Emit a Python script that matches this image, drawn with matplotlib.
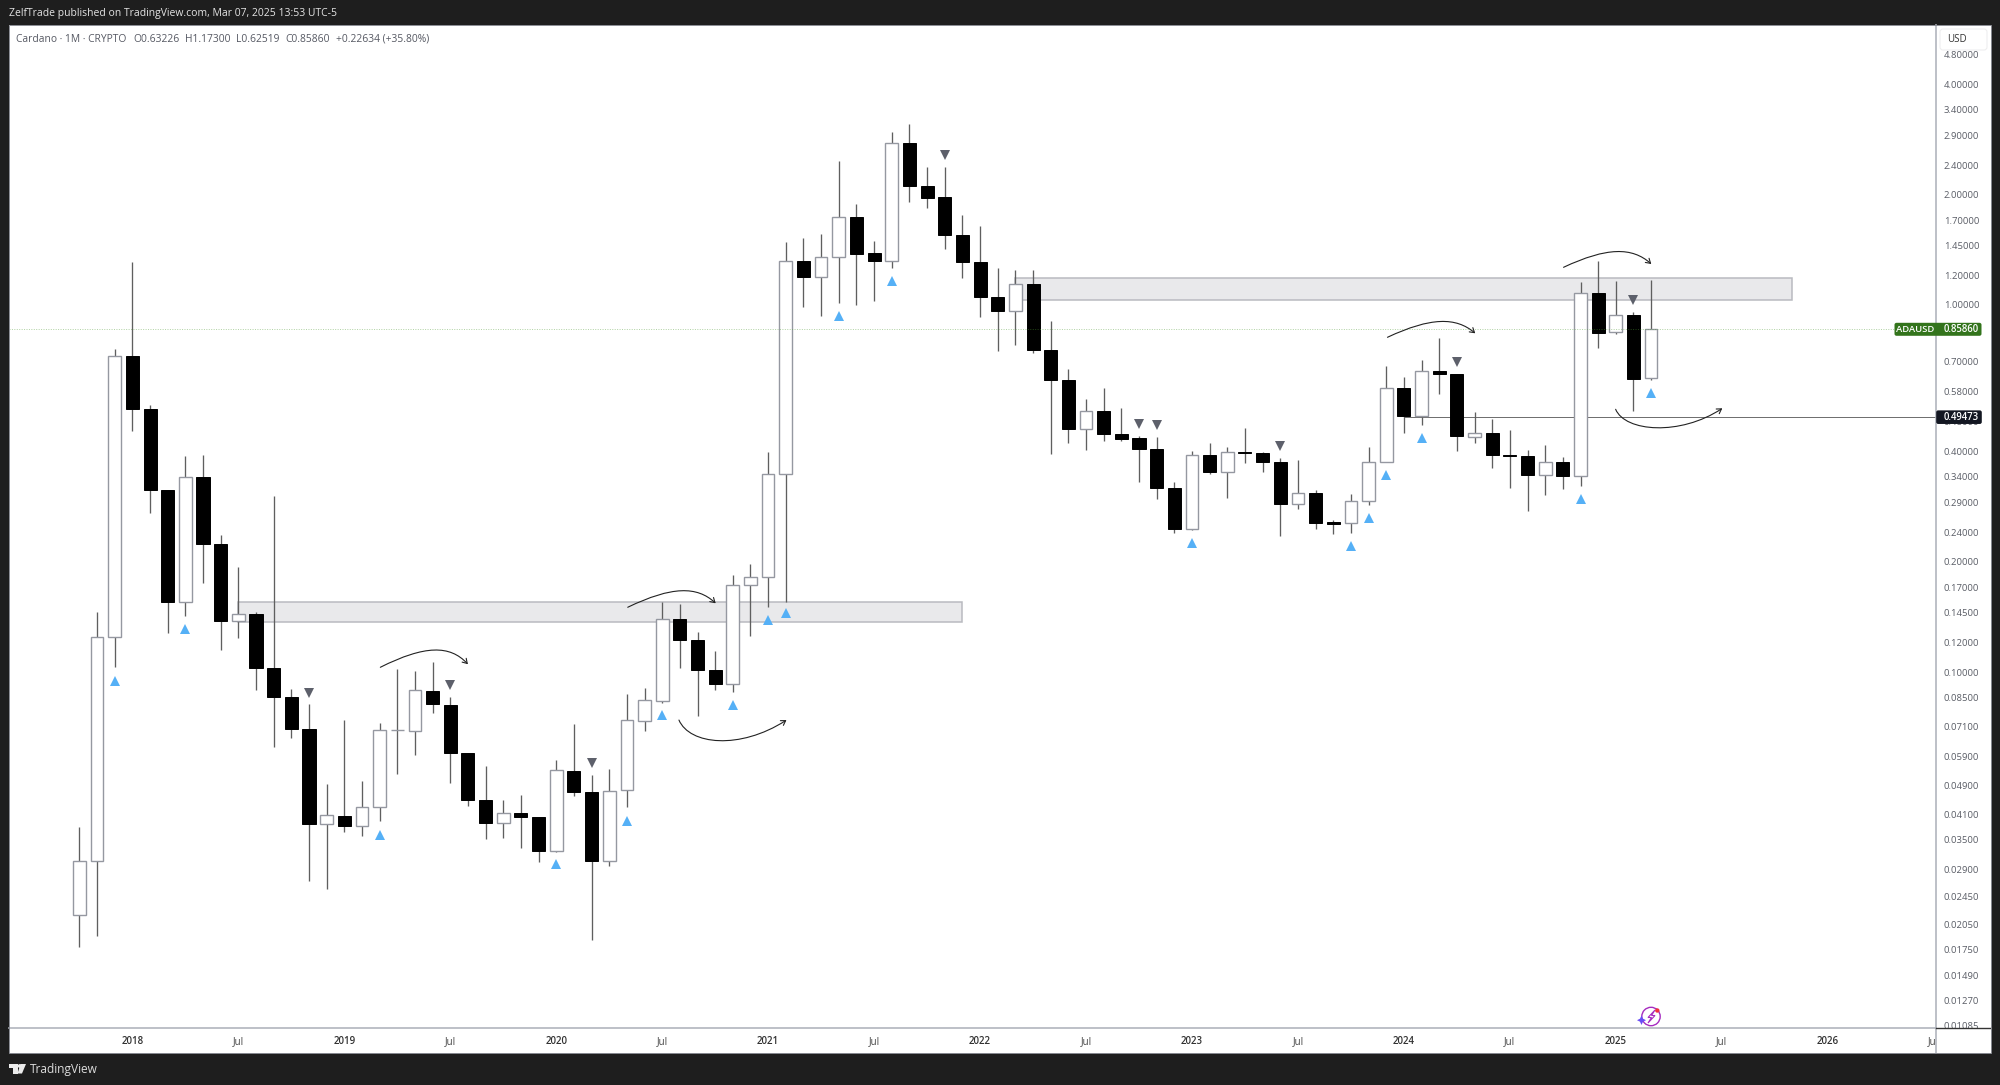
import matplotlib
matplotlib.use("Agg")
import matplotlib.pyplot as plt
import numpy as np
from matplotlib.patches import Rectangle, Circle, Polygon, FancyBboxPatch, FancyArrowPatch
from matplotlib.path import Path
from matplotlib.transforms import Bbox, IdentityTransform, TransformedBbox

# Monthly ADAUSD candles, index 0 = Oct 2017, index 89 = Mar 2025
OPENS = [0.02178, 0.03057, 0.1244, 0.7276, 0.5194, 0.3128, 0.1553, 0.339, 0.2233, 0.1373,
         0.1442, 0.1026, 0.0853, 0.0698, 0.03859, 0.04043, 0.03799, 0.04275, 0.06932, 0.069,
         0.0889, 0.08127, 0.06005, 0.04486, 0.03869, 0.0412, 0.04025, 0.03257, 0.05371, 0.04708,
         0.03047, 0.0476, 0.07364, 0.08334, 0.1397, 0.1225, 0.1013, 0.0929, 0.1723, 0.1815,
         0.3456, 1.3179, 1.1898, 1.354, 1.7369, 1.3833, 1.3155, 2.758, 2.1099, 1.9653,
         1.5544, 1.3073, 1.0515, 0.9612, 1.1393, 0.7541, 0.6257, 0.4585, 0.5153, 0.4452,
         0.4342, 0.4052, 0.3178, 0.2458, 0.3896, 0.3514, 0.3983, 0.3951, 0.3741, 0.2864,
         0.3069, 0.2558, 0.2539, 0.293, 0.3746, 0.5942, 0.4994, 0.6597, 0.6498, 0.4376,
         0.4488, 0.3896, 0.3878, 0.3441, 0.3735, 0.3413, 1.0762, 0.8426, 0.941, 0.63226]
HIGHS = [0.03786, 0.1458, 0.7573, 1.3129, 0.533, 0.3128, 0.387, 0.3904, 0.2359, 0.1927,
         0.1458, 0.3012, 0.0899, 0.0819, 0.04945, 0.07397, 0.0506, 0.0727, 0.1018, 0.1006,
         0.1063, 0.0855, 0.06027, 0.05552, 0.04486, 0.04612, 0.04025, 0.05748, 0.07214, 0.05238,
         0.05449, 0.08723, 0.09029, 0.1552, 0.1529, 0.1285, 0.1141, 0.1837, 0.1965, 0.3976,
         1.4848, 1.5254, 1.5583, 2.4681, 1.888, 1.4969, 2.9662, 3.1076, 2.3724, 2.3769,
         1.7555, 1.6383, 1.2636, 1.2458, 1.2458, 0.9028, 0.6694, 0.5555, 0.5942, 0.523,
         0.4405, 0.4369, 0.3288, 0.3993, 0.4214, 0.4095, 0.4623, 0.3983, 0.3822, 0.3782,
         0.3133, 0.2596, 0.3049, 0.409, 0.6813, 0.6353, 0.7083, 0.8115, 0.6498, 0.51,
         0.4892, 0.4556, 0.4018, 0.4154, 0.3854, 1.153, 1.3205, 1.1647, 0.9588, 1.173]
LOWS = [0.01781, 0.01913, 0.1032, 0.4523, 0.2717, 0.1281, 0.1425, 0.1748, 0.1151, 0.1241,
        0.0896, 0.06235, 0.066, 0.02703, 0.02569, 0.03659, 0.03569, 0.03933, 0.05258, 0.0593,
        0.0773, 0.04991, 0.0432, 0.0351, 0.03533, 0.03306, 0.0304, 0.03236, 0.04592, 0.01861,
        0.02953, 0.04278, 0.06906, 0.08245, 0.1024, 0.0757, 0.08934, 0.088, 0.1252, 0.1501,
        0.1554, 0.9857, 0.935, 1.0145, 1.0, 1.0235, 1.2612, 1.9119, 1.8347, 1.4235,
        1.1845, 0.9257, 0.7479, 0.7781, 0.7378, 0.392, 0.4207, 0.4034, 0.4252, 0.4252,
        0.33, 0.2961, 0.2395, 0.2437, 0.3463, 0.2979, 0.3718, 0.3501, 0.2351, 0.2775,
        0.2458, 0.2372, 0.2395, 0.2851, 0.3735, 0.4488, 0.471, 0.5711, 0.4009, 0.4207,
        0.3603, 0.3178, 0.2751, 0.3035, 0.3152, 0.3218, 0.7622, 0.8336, 0.5134, 0.62519]
CLOSES = [0.03057, 0.1244, 0.7276, 0.5194, 0.3128, 0.1553, 0.339, 0.2233, 0.1373, 0.1442,
          0.1026, 0.0853, 0.0698, 0.03852, 0.04068, 0.03813, 0.04275, 0.0695, 0.0695, 0.08934,
          0.0818, 0.06005, 0.04478, 0.03884, 0.04128, 0.04033, 0.03257, 0.05395, 0.04717, 0.03059,
          0.04747, 0.07397, 0.0837, 0.1397, 0.1225, 0.1013, 0.0929, 0.1723, 0.1818, 0.3456,
          1.3155, 1.1898, 1.354, 1.7369, 1.3798, 1.3155, 2.758, 2.1099, 1.9604, 1.5515,
          1.3073, 1.0515, 0.9612, 1.1386, 0.7541, 0.6257, 0.4585, 0.5153, 0.4452, 0.4323,
          0.4052, 0.3172, 0.2458, 0.3896, 0.3514, 0.3983, 0.3951, 0.3727, 0.2864, 0.3069,
          0.2547, 0.2531, 0.293, 0.3746, 0.5942, 0.4994, 0.6597, 0.6486, 0.4387, 0.4488,
          0.3896, 0.3878, 0.3441, 0.3735, 0.3413, 1.0762, 0.8405, 0.941, 0.6298, 0.8586]

# Signal markers
UP_MONTHS = [2, 6, 17, 27, 31, 33, 37, 39, 40, 43, 46, 63, 72, 73, 74, 76, 85, 89]
UP_PRICES = [0.0946, 0.1311, 0.03605, 0.0299, 0.0393, 0.0763, 0.0813, 0.1386, 0.1445, 0.9333,
             1.1626, 0.2243, 0.2208, 0.2623, 0.3435, 0.4341, 0.2955, 0.5757]
DOWN_MONTHS = [13, 21, 29, 49, 60, 61, 68, 78, 88]
DOWN_PRICES = [0.0878, 0.092, 0.0564, 2.5677, 0.4748, 0.4719, 0.4121, 0.7007, 1.0299]

# Drawn zones: month from, month to, price top, price bottom
ZONES = [(9, 50, 0.1551, 0.1368), (53, 97, 1.187, 1.034)]

LAST_PRICE = 0.8586
LEVEL_PRICE = 0.49473
LEVEL_START = 75

# Hand-drawn arrows as bezier control points (month, price)
ARROWS = [
    [(17.04, 0.103), (19.57, 0.1185), (20.98, 0.1185), (22.0, 0.105)],
    [(31.05, 0.1501), (33.56, 0.1715), (34.97, 0.1715), (36.03, 0.1539)],
    [(33.95, 0.07397), (34.56, 0.0633), (37.39, 0.0613), (40.04, 0.07397)],
    [(74.07, 0.8166), (76.53, 0.9275), (77.95, 0.9275), (79.04, 0.8373)],
    [(84.04, 1.2668), (86.5, 1.439), (87.92, 1.439), (89.01, 1.2933)],
    [(86.99, 0.5198), (87.53, 0.4508), (90.65, 0.4396), (93.03, 0.523)],
]

PRICE_TICKS = [4.8, 4.0, 3.4, 2.9, 2.4, 2.0, 1.7, 1.45, 1.2, 1.0, 0.7, 0.58, 0.48, 0.4, 0.34,
               0.29, 0.24, 0.2, 0.17, 0.145, 0.12, 0.1, 0.085, 0.071, 0.059, 0.049, 0.041,
               0.035, 0.029, 0.0245, 0.0205, 0.0175, 0.0149, 0.0127, 0.01085]
TIME_TICKS = [3, 9, 15, 21, 27, 33, 39, 45, 51, 57, 63, 69, 75, 81, 87, 93, 99, 105]
TIME_LABELS = ["2018", "Jul", "2019", "Jul", "2020", "Jul", "2021", "Jul", "2022", "Jul",
               "2023", "Jul", "2024", "Jul", "2025", "Jul", "2026", "Jul"]

HEADER_TEXT = "ZelfTrade published on TradingView.com, Mar 07, 2025 13:53 UTC-5"
LEGEND_PARTS = ["Cardano · 1M · CRYPTO", "O0.63226", "H1.17300", "L0.62519", "C0.85860",
                "+0.22634 (+35.80%)"]
LEGEND_X = [16, 133, 185, 236, 285, 336]

DARK = "#1e1e1e"
AXIS_GRAY = "#b2b5be"
WICK = "#5f5f5f"
BODY_EDGE = "#9598a1"
BLUE = "#55b0f6"
SLATE = "#5d606b"
GREEN = "#33741c"
NAVY = "#131722"
FONT = "Open Sans"

W, H = 2000, 1085
PLOT_L, PLOT_R, PLOT_T, PLOT_B = 8.5, 1936, 24.5, 1028
PANEL_R, PANEL_B = 1990.5, 1052.5


def py(y):
    """Flip a pixel row measured from the top into display coordinates."""
    return H - y


def add_px(fig, artist):
    artist.set_transform(IdentityTransform())
    fig.add_artist(artist)
    return artist


def px_rect(fig, x0, y0, x1, y1, **kw):
    return add_px(fig, Rectangle((x0, py(y1)), x1 - x0, y1 - y0, **kw))


def px_text(fig, x, y, s, **kw):
    kw.setdefault("family", FONT)
    kw.setdefault("va", "center")
    return fig.text(x, py(y), s, transform=IdentityTransform(), **kw)


def draw_candles(ax):
    months = np.arange(len(OPENS))
    opens, closes = np.array(OPENS), np.array(CLOSES)
    up = closes >= opens
    ax.vlines(months, LOWS, HIGHS, color=WICK, lw=0.95, zorder=3)
    bottom = np.minimum(opens, closes)
    height = np.abs(closes - opens)
    ax.bar(months[up], height[up], bottom=bottom[up], width=0.72, color="white",
           edgecolor=BODY_EDGE, lw=1.0, zorder=4)
    ax.bar(months[~up], height[~up], bottom=bottom[~up], width=0.74, color="black",
           edgecolor="black", lw=0.7, zorder=4)


def draw_chrome(fig, ax):
    # axis separators and panel edge
    fig.add_artist(plt.Line2D([PLOT_R, PLOT_R], [py(PLOT_T), py(PANEL_B)], color=AXIS_GRAY,
                              lw=1.2, transform=IdentityTransform(), zorder=6))
    fig.add_artist(plt.Line2D([PLOT_L, PLOT_R], [py(PLOT_B), py(PLOT_B)], color=AXIS_GRAY,
                              lw=1.2, transform=IdentityTransform(), zorder=6))
    fig.add_artist(plt.Line2D([PLOT_R, PANEL_R], [py(PLOT_B), py(PLOT_B)], color="#333333",
                              lw=1.0, transform=IdentityTransform(), zorder=6))
    px_rect(fig, PLOT_L, PLOT_T, PANEL_R, PANEL_B, facecolor="none", edgecolor="#8a8c93",
            lw=0.7, zorder=6)

    # USD box
    add_px(fig, FancyBboxPatch((1941, py(49)), 45, 19, boxstyle="round,pad=1,rounding_size=3",
                               facecolor="white", edgecolor="#eeeeef", lw=0.8, zorder=7))
    px_text(fig, 1956.5, 39.5, "USD", ha="center", fontsize=7.0, color="#333333", zorder=8)

    # price labels, placed from the axis scale
    last_y = ax.transData.transform((0, LAST_PRICE))[1]
    add_px(fig, FancyBboxPatch((1895, last_y - 6), 86, 12, boxstyle="round,pad=0.5,rounding_size=2",
                               facecolor=GREEN, edgecolor="none", zorder=7))
    fig.text(1915, last_y, "ADAUSD", transform=IdentityTransform(), family=FONT, ha="center",
             va="center", fontsize=6.8, weight="semibold", color="white", zorder=8)
    fig.text(1961, last_y, f"{LAST_PRICE:.5f}", transform=IdentityTransform(), family=FONT,
             ha="center", va="center", fontsize=6.9, weight="semibold", color="white", zorder=8)
    level_y = ax.transData.transform((0, LEVEL_PRICE))[1]
    add_px(fig, FancyBboxPatch((1936.5, level_y - 6.5), 45, 13, boxstyle="round,pad=0.3,rounding_size=2",
                               facecolor=NAVY, edgecolor="none", zorder=7))
    fig.text(1961, level_y, f"{LEVEL_PRICE:.5f}", transform=IdentityTransform(), family=FONT,
             ha="center", va="center", fontsize=6.9, weight="semibold", color="white", zorder=8)

    # header, legend and footer texts
    px_text(fig, 9, 13.5, HEADER_TEXT, fontsize=7.45, color="#e4e4e4")
    for x, part in zip(LEGEND_X, LEGEND_PARTS):
        px_text(fig, x, 39, part, fontsize=7.4, color="#555862", zorder=8)
    px_text(fig, 30, 1070, "TradingView", fontsize=8.6, color="#dcdcdc")

    # TradingView logo
    logo_t = [(9, 1064), (17.5, 1064), (17.5, 1073.5), (13, 1073.5), (13, 1068), (9, 1068)]
    logo_v = [(20.5, 1064), (26, 1064), (22, 1073.5), (17.5, 1073.5)]
    add_px(fig, Polygon([(x, py(y)) for x, y in logo_t], facecolor="#ececec", edgecolor="none"))
    add_px(fig, Polygon([(x, py(y)) for x, y in logo_v], facecolor="#ececec", edgecolor="none"))
    add_px(fig, Circle((19.7, py(1066)), 1.9, facecolor="#ececec", edgecolor="none"))

    # lightning badge at the bottom of the chart
    add_px(fig, Circle((1651, py(1016.5)), 9.2, facecolor="none", edgecolor="#a62cc0", lw=1.0, zorder=7))
    bolt = [(1655, 1010), (1648, 1017.5), (1651.5, 1017.5), (1648, 1023), (1655, 1015.5), (1651.5, 1015.5)]
    add_px(fig, Polygon([(x, py(y)) for x, y in bolt], facecolor="none", edgecolor="#a62cc0", lw=0.8, zorder=7))
    add_px(fig, Circle((1657.3, py(1010.5)), 2.2, facecolor="#f0303f", edgecolor="none", zorder=8))
    star = [(1641.5, 1015.5), (1643, 1018.7), (1646, 1020.2), (1643, 1021.7),
            (1641.5, 1025), (1640, 1021.7), (1637, 1020.2), (1640, 1018.7)]
    add_px(fig, Polygon([(x, py(y)) for x, y in star], facecolor="#6a4df5", edgecolor="none", zorder=8))


def main():
    plt.rcParams["font.family"] = FONT
    fig = plt.figure(figsize=(W / 100, H / 100), dpi=100, facecolor=DARK)
    px_rect(fig, PLOT_L, PLOT_T, PANEL_R, PANEL_B, facecolor="white", edgecolor="none", zorder=-1)

    ax = fig.add_axes([PLOT_L / W, 1 - PLOT_B / H, (PLOT_R - PLOT_L) / W, (PLOT_B - PLOT_T) / H])
    ax.patch.set_alpha(0)
    ax.set_yscale("log")
    ax.set_xlim((PLOT_L - 79.4) / 17.66, (PLOT_R - 79.4) / 17.66)
    ax.set_ylim(10 ** ((305 - PLOT_B) / 367), 10 ** ((305 - PLOT_T) / 367))
    for side in ax.spines.values():
        side.set_visible(False)

    # zones and levels sit under the candles
    for m0, m1, top, bottom in ZONES:
        ax.add_patch(Rectangle((m0, bottom), m1 - m0, top - bottom, facecolor="#e9e9eb",
                               edgecolor="#b9bac0", lw=1.1, zorder=2))
    ax.plot([LEVEL_START, ax.get_xlim()[1]], [LEVEL_PRICE, LEVEL_PRICE], color="#333333", lw=0.5, zorder=2.5)

    draw_candles(ax)

    ax.axhline(LAST_PRICE, color="#4f9a32", lw=0.7, ls=(0, (1, 1.5)), alpha=0.45, zorder=5)
    ax.plot(UP_MONTHS, UP_PRICES, ls="none", marker="^", ms=7.6, color=BLUE, mew=0, zorder=6)
    ax.plot(DOWN_MONTHS, DOWN_PRICES, ls="none", marker="v", ms=7.6, color=SLATE, mew=0, zorder=6)

    codes = [Path.MOVETO, Path.CURVE4, Path.CURVE4, Path.CURVE4]
    for pts in ARROWS:
        ax.add_patch(FancyArrowPatch(path=Path(pts, codes), arrowstyle="->,head_length=3.2,head_width=2.0",
                                     color="#222222", lw=0.8, zorder=7))

    # axis labels
    ax.yaxis.tick_right()
    ax.set_yticks(PRICE_TICKS)
    ax.set_yticklabels([f"{p:.5f}" for p in PRICE_TICKS], fontsize=6.8, color="#5a5d66")
    ax.minorticks_off()
    ax.set_xticks(TIME_TICKS)
    ax.set_xticklabels(TIME_LABELS, fontsize=7.0, color="#444444")
    ax.tick_params(axis="both", length=0)
    ax.tick_params(axis="y", pad=5.6)
    ax.tick_params(axis="x", pad=5.5)
    for lab, txt in zip(ax.get_xticklabels(), TIME_LABELS):
        if txt != "Jul":
            lab.set_fontweight("semibold")
            lab.set_color("#333333")
        lab.set_clip_box(TransformedBbox(Bbox([[PLOT_L, py(PANEL_B)], [PLOT_R, py(PLOT_B)]]), IdentityTransform()))
        lab.set_clip_on(True)
    for lab in ax.get_yticklabels():
        lab.set_clip_box(TransformedBbox(Bbox([[PLOT_R, py(PLOT_B)], [PANEL_R, py(PLOT_T)]]), IdentityTransform()))
        lab.set_clip_on(True)

    draw_chrome(fig, ax)

    fig.savefig("out.png", dpi=100, facecolor=DARK)
    plt.close(fig)


if __name__ == "__main__":
    main()
